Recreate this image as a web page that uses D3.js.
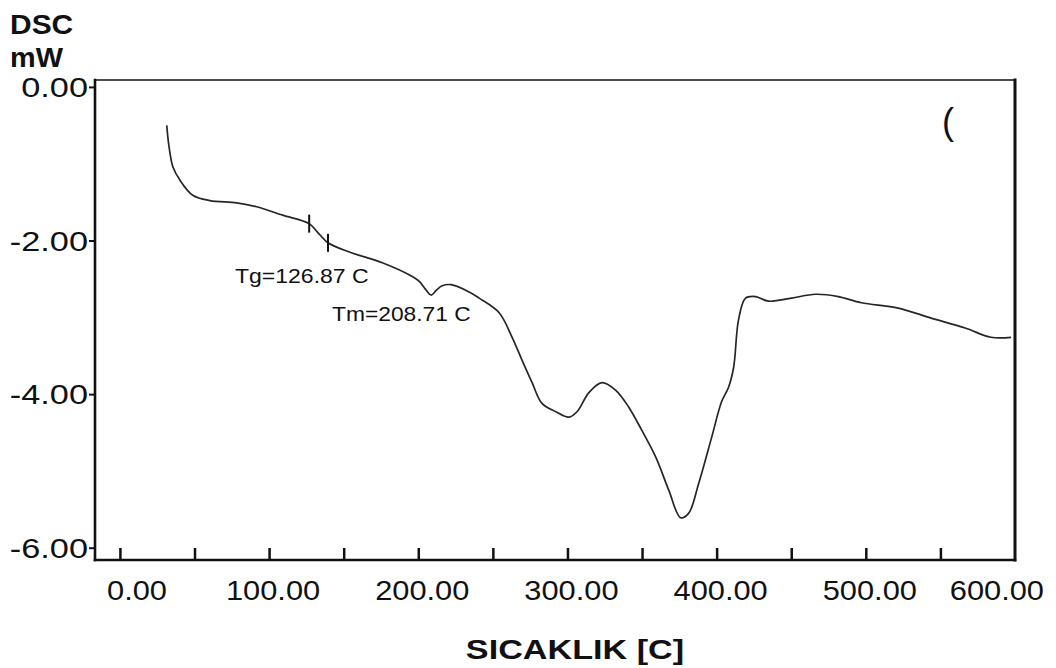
<!DOCTYPE html>
<html>
<head>
<meta charset="utf-8">
<script src="https://cdn.jsdelivr.net/npm/d3@7"></script>
<style>
  html, body { margin: 0; padding: 0; background: #fff; }
  svg { display: block; }
  text { font-family: "Liberation Sans", Arial, sans-serif; fill: #111; }
</style>
</head>
<body>
<svg id="chart" width="1056" height="668"></svg>
<script>
// DSC thermogram: heat flow (mW) against temperature (°C)
const temperature = [
  31.4, 32.8, 35.5, 40.1, 48.8, 60.2, 78.3, 91.6, 109.0, 126.87, 132.4, 139.5,
  153.8, 175.9, 196.0, 201.0, 205.0, 208.71, 212.0, 216.0, 222.0, 234.1,
  240.8, 254.2, 262.9, 269.6, 276.3, 282.9, 292.3, 301.0, 306.4, 314.4,
  323.1, 332.4, 341.1, 349.8, 359.2, 367.9, 375.9, 381.3, 388.0, 396.7,
  403.3, 408.0, 411.4, 414.7, 419.4, 426.1, 434.8, 450.2, 466.2, 481.6,
  497.0, 521.7, 543.8, 566.6, 583.9, 597.3
];
const heatFlow = [
  -0.50, -0.76, -1.04, -1.21, -1.41, -1.48, -1.51, -1.56, -1.67, -1.78, -1.89, -2.03,
  -2.15, -2.29, -2.47, -2.54, -2.64, -2.71, -2.65, -2.59, -2.575, -2.67,
  -2.75, -2.94, -3.26, -3.56, -3.85, -4.12, -4.23, -4.30, -4.23, -3.98,
  -3.85, -3.95, -4.17, -4.47, -4.82, -5.25, -5.61, -5.55, -5.16, -4.56,
  -4.10, -3.91, -3.65, -3.03, -2.75, -2.73, -2.79, -2.75, -2.70, -2.73,
  -2.81, -2.88, -3.01, -3.14, -3.26, -3.26
];

// Axis ticks
const xMinorTicks = [0, 50, 100, 150, 200, 250, 300, 350, 400, 450, 500, 550];
const xTickValues = [0, 100, 200, 300, 400, 500, 600];
const xTickLabels = ["0.00", "100.00", "200.00", "300.00", "400.00", "500.00", "600.00"];
const yTickValues = [0, -2, -4, -6];
const yTickLabels = ["0.00", "-2.00", "-4.00", "-6.00"];

// Transition annotations
const tgOnset = 126.87;
const tgEnd = 139.5;
const tmPeak = 208.71;
const tgLabel = "Tg=126.87 C";
const tmLabel = "Tm=208.71 C";

const W = 1056, H = 668;
const plot = { left: 95, right: 1015, top: 80, bottom: 560 };

const svg = d3.select("#chart");

const x = d3.scaleLinear().domain([-16.7, 600]).range([plot.left, plot.right]);
const y = d3.scaleLinear().domain([-6.16, 0.09]).range([plot.bottom, plot.top]);

// Stretch text horizontally by a factor, keeping its anchor
function widen(sel, f) {
  sel.each(function () {
    const w = this.getComputedTextLength();
    d3.select(this).attr("textLength", w * f).attr("lengthAdjust", "spacingAndGlyphs");
  });
}

// Curve
const points = temperature.map((t, i) => [t, heatFlow[i]]);
const line = d3.line()
  .x(d => x(d[0]))
  .y(d => y(d[1]))
  .curve(d3.curveCatmullRom.alpha(0.5));

svg.append("path")
  .datum(points)
  .attr("d", line)
  .attr("fill", "none")
  .attr("stroke", "#262626")
  .attr("stroke-width", 1.7)
  .attr("stroke-linejoin", "round");

// Frame: heavy left, bottom and right edges, lighter top edge
const frame = svg.append("g").attr("stroke", "#111").attr("stroke-linecap", "square");
frame.append("line").attr("x1", plot.left).attr("x2", plot.right)
  .attr("y1", plot.top).attr("y2", plot.top).attr("stroke-width", 1.6);
frame.append("line").attr("x1", plot.left).attr("x2", plot.left)
  .attr("y1", plot.top).attr("y2", plot.bottom).attr("stroke-width", 2.6);
frame.append("line").attr("x1", plot.left).attr("x2", plot.right)
  .attr("y1", plot.bottom).attr("y2", plot.bottom).attr("stroke-width", 2.6);
frame.append("line").attr("x1", plot.right).attr("x2", plot.right)
  .attr("y1", plot.top).attr("y2", plot.bottom).attr("stroke-width", 3);

// X ticks point inward from the bottom edge
const xAxis = d3.axisBottom(x)
  .tickValues(xMinorTicks)
  .tickSize(-12)
  .tickSizeOuter(0)
  .tickFormat("");
const gx = svg.append("g")
  .attr("transform", `translate(0,${plot.bottom})`)
  .call(xAxis);
gx.select(".domain").remove();
gx.selectAll(".tick line").attr("stroke", "#111").attr("stroke-width", 2.5);

// X tick labels, kept inside the page
const xLab = svg.append("g").selectAll("text")
  .data(xTickValues)
  .join("text")
  .attr("x", d => x(d))
  .attr("y", 600)
  .attr("text-anchor", "middle")
  .attr("font-size", 28)
  .text((d, i) => xTickLabels[i]);
widen(xLab, 1.1);
xLab.each(function (d) {
  const w = +this.getAttribute("textLength");
  const cx = Math.min(Math.max(x(d) + 4, plot.left + 12 + w / 2), W - 12 - w / 2);
  d3.select(this).attr("x", cx);
});

// Y axis ticks and labels
const yAxis = d3.axisLeft(y)
  .tickValues(yTickValues)
  .tickSize(6)
  .tickSizeOuter(0)
  .tickPadding(1)
  .tickFormat((d, i) => yTickLabels[i]);
const gy = svg.append("g")
  .attr("transform", `translate(${plot.left},0)`)
  .call(yAxis);
gy.select(".domain").remove();
gy.selectAll(".tick line").attr("stroke", "#111").attr("stroke-width", 2);
gy.selectAll(".tick text")
  .attr("font-size", 27)
  .attr("fill", "#111")
  .attr("font-family", "Liberation Sans, Arial, sans-serif")
  .attr("dy", "0.36em");
widen(gy.selectAll(".tick text"), 1.27);

// Axis titles
const t1 = svg.append("text").attr("x", 10).attr("y", 34)
  .attr("font-size", 28).attr("font-weight", "bold").text("DSC");
const t2 = svg.append("text").attr("x", 10).attr("y", 67)
  .attr("font-size", 28).attr("font-weight", "bold").text("mW");
widen(t1, 1.07);
widen(t2, 1.03);

const xt = svg.append("text").attr("x", 575).attr("y", 659)
  .attr("text-anchor", "middle")
  .attr("font-size", 28).attr("font-weight", "bold").text("SICAKLIK [C]");
widen(xt, 1.22);

// Glass transition markers on the curve
const valueAt = t => {
  const i = d3.bisector(d => d).left(temperature, t);
  if (temperature[i] === t) return heatFlow[i];
  const t0 = temperature[i - 1], t1v = temperature[i];
  return heatFlow[i - 1] + (heatFlow[i] - heatFlow[i - 1]) * (t - t0) / (t1v - t0);
};
[tgOnset, tgEnd].forEach(t => {
  svg.append("line")
    .attr("x1", x(t)).attr("x2", x(t))
    .attr("y1", y(valueAt(t)) - 9).attr("y2", y(valueAt(t)) + 9)
    .attr("stroke", "#111").attr("stroke-width", 2);
});

const tgText = svg.append("text").attr("x", 235).attr("y", 283)
  .attr("font-size", 20).text(tgLabel);
const tmText = svg.append("text").attr("x", 332).attr("y", 321)
  .attr("font-size", 20).text(tmLabel);
widen(tgText, 1.15);
widen(tmText, 1.14);

// Panel mark in the upper right
svg.append("text").attr("x", 942).attr("y", 134)
  .attr("font-family", "Liberation Serif, Times New Roman, serif")
  .attr("font-size", 36).text("(");
</script>
</body>
</html>
